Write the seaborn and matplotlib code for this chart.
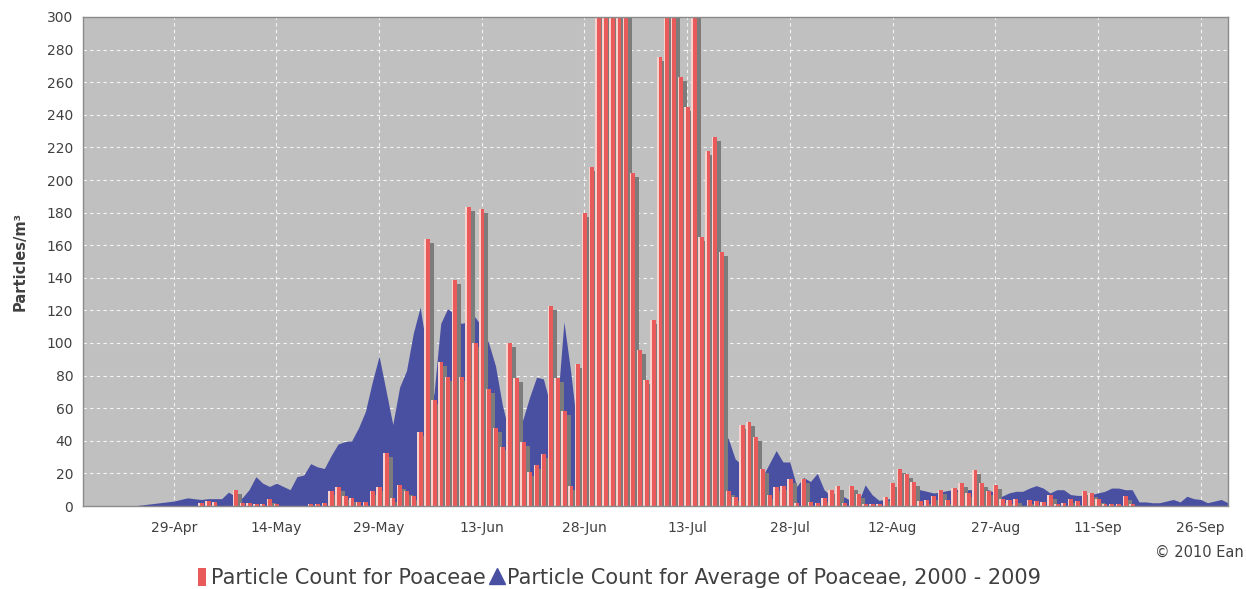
import numpy as np
import pandas as pd
import matplotlib
matplotlib.use("Agg")
import matplotlib.pyplot as plt
import matplotlib.dates as mdates
import seaborn as sns
from matplotlib.patches import Patch
from matplotlib.lines import Line2D

# ---------------- data (daily, 16-Apr-2010 .. 30-Sep-2010) ----------------
start_date = "2010-04-16"

poaceae_2010 = [
    0, 0, 0, 0, 0, 0, 0, 0, 0, 0, 0, 0, 0, 0, 0, 0, 0,          # 16-Apr .. 02-May
    2, 3, 2.5, 0, 0, 10, 2, 2, 1.5, 1.5, 4, 1.5, 0, 0, 0, 0,    # 03-May .. 18-May
    1, 1.5, 2, 9.5, 11.5, 6, 5, 2.5, 2.5, 9, 11.5, 32.5,        # 19-May .. 30-May
    5, 13, 9, 6, 45.5, 164, 65, 88.5, 79, 138.5, 79, 183.5,     # 31-May .. 11-Jun
    100, 182, 71.5, 48, 36.5, 100, 78.5, 39.5, 21, 25, 32, 123, # 12-Jun .. 23-Jun
    78.5, 58.5, 12, 87, 179.5, 208, 330, 360, 390, 345, 305,    # 24-Jun .. 04-Jul
    204.5, 95.5, 77, 114, 275.5, 310, 320, 263, 245, 315, 165,  # 05-Jul .. 15-Jul
    218, 226.5, 156, 9, 5.5, 49.5, 51.5, 42.5, 22.5, 6.5, 11.5, # 16-Jul .. 26-Jul
    12.5, 16.5, 2, 16.5, 2.5, 2, 5, 10, 12.5, 2, 12, 7.5,       # 27-Jul .. 07-Aug
    1, 1, 1.5, 5.5, 14, 23, 19.5, 15, 3, 3.5, 6, 10,            # 08-Aug .. 19-Aug
    3.5, 11, 14, 8, 22, 14, 9, 13, 4.5, 3.5, 4, 0,              # 20-Aug .. 31-Aug
    3.5, 3, 2.5, 6.5, 1, 2, 4, 3, 9.5, 8, 4, 1,                 # 01-Sep .. 12-Sep
    1.5, 1.5, 6, 1, 0, 0, 0, 0, 0, 0, 0, 0, 0, 0, 0, 0, 0, 0,   # 13-Sep .. 30-Sep
]

average_2000_2009 = [
    0, 0, 0, 0, 0, 0, 0, 0, 0.5, 1, 1.5, 2, 2.5,                # 16-Apr .. 28-Apr
    3, 4, 5, 4.5, 4, 4.5, 4.5, 4.5, 8.5, 6, 5, 10, 18, 14,      # 29-Apr .. 12-May
    12, 14, 12, 10, 18, 19, 26, 24, 23, 31, 38, 39.5, 40,       # 13-May .. 25-May
    48, 58, 76, 92, 71, 50, 73, 83, 106, 122, 95, 68, 112,      # 26-May .. 07-Jun
    121, 118, 112, 113, 116, 110, 100, 86, 62, 45, 49, 53,      # 08-Jun .. 19-Jun
    67, 79, 78, 62, 60, 113, 82, 45, 12, 25, 40, 52, 60,        # 20-Jun .. 02-Jul
    66, 70, 73, 75, 76, 72, 66, 61, 58, 55, 52, 50, 48,         # 03-Jul .. 15-Jul
    46, 45, 44, 41.5, 29, 25, 22, 20, 18, 26, 34, 27, 27,       # 16-Jul .. 28-Jul
    12, 17.5, 15, 20, 10, 6, 6, 5.5, 3, 2, 13, 7, 3.5,          # 29-Jul .. 10-Aug
    4, 5, 6, 8, 12, 10, 9, 8, 8.5, 9.5, 10, 10, 10,             # 11-Aug .. 23-Aug
    10, 10, 10, 8, 6, 8, 9, 9, 11, 12.5, 11, 8, 10,             # 24-Aug .. 05-Sep
    10, 7, 6.5, 6.5, 7, 8, 9, 11, 11, 10, 10, 2.5, 2.5,         # 06-Sep .. 18-Sep
    2, 2, 3, 4, 2.5, 6, 4.5, 4, 2, 3, 4, 2,                     # 19-Sep .. 30-Sep
]

tick_dates = ["2010-04-29", "2010-05-14", "2010-05-29", "2010-06-13",
              "2010-06-28", "2010-07-13", "2010-07-28", "2010-08-12",
              "2010-08-27", "2010-09-11", "2010-09-26"]
y_ticks = list(range(0, 301, 20))
series_labels = ["Particle Count for Poaceae",
                 "Particle Count for Average of Poaceae, 2000 - 2009"]
y_label = "Particles/m³"
credit = "© 2010 Ean"

# ---------------- styling ----------------
RED = "#e95b5a"
RED_HI = "#f8d2cd"
SHADOW = "#7c7c7c"
BLUE = "#4a50a1"
PLOT_BG = "#c0c0c0"
TXT = "#404040"

sns.set_theme(style="whitegrid")
plt.rcParams["font.family"] = ["DejaVu Sans"]

dates = pd.date_range(start_date, periods=len(poaceae_2010), freq="D")
x = mdates.date2num(dates)
vals = np.array(poaceae_2010, dtype=float)
avg = np.array(average_2000_2009, dtype=float)

fig = plt.figure(figsize=(12.46, 5.89), dpi=100)
fig.patch.set_facecolor("white")
ax = fig.add_axes([83 / 1246, 1 - 506 / 589, (1228 - 83) / 1246, (506 - 17) / 589])
ax.set_facecolor(PLOT_BG)

# average area
ax.fill_between(x, avg, 0, color=BLUE, linewidth=0, zorder=1)

# bar shadows (4 px right / 4 px down)
dx_shadow = 0.584
dy_shadow = 2.45
sns.barplot(x=x + dx_shadow, y=np.clip(vals - dy_shadow, 0, None), native_scale=True,
            width=0.78, color=SHADOW, saturation=1, errorbar=None, ax=ax,
            linewidth=0, zorder=2)
# red bars
sns.barplot(x=x, y=vals, native_scale=True, width=0.78, color=RED, saturation=1,
            errorbar=None, ax=ax, linewidth=0, zorder=3)
# left-edge highlight
sns.barplot(x=x - 0.39 + 0.11, y=vals, native_scale=True, width=0.22, color=RED_HI,
            saturation=1, errorbar=None, ax=ax, linewidth=0, zorder=4)

# axes
ax.set_xlim(x[0] - 0.25, x[-1] + 0.0)
ax.set_ylim(0, 300)
ax.set_yticks(y_ticks)
ticks = mdates.date2num(pd.to_datetime(tick_dates))
ax.set_xticks(ticks)
ax.xaxis.set_major_formatter(mdates.DateFormatter("%d-%b"))
ax.set_xlabel("")
ax.set_ylabel(y_label, fontsize=10.5, fontweight="bold", color=TXT, labelpad=14)

ax.set_axisbelow(True)
ax.grid(True, color="white", linestyle=(0, (3, 3)), linewidth=0.8, alpha=0.85, zorder=0)
ax.tick_params(axis="both", which="major", length=3, width=0.8, color="#8a8a8a",
               labelsize=10, labelcolor=TXT, pad=4)
ax.tick_params(axis="x", pad=8)
for s in ax.spines.values():
    s.set_color("#8a8a8a")
    s.set_linewidth(1)
    s.set_zorder(6)

# credit
fig.text(1244 / 1246, 1 - 552 / 589, credit, ha="right", va="center",
         fontsize=10.5, color=TXT)

# legend
handles = [Patch(facecolor=RED, edgecolor="none"),
           Line2D([], [], linestyle="", marker="^", markersize=12, color=BLUE)]
fig.legend(handles, series_labels, loc="center", bbox_to_anchor=(0.497, 1 - 578 / 589),
           ncol=2, frameon=False, fontsize=15, handlelength=0.4, handleheight=1.0,
           handletextpad=0.25, columnspacing=0.35, labelcolor=TXT)

fig.savefig("out.png", dpi=100, facecolor="white")
